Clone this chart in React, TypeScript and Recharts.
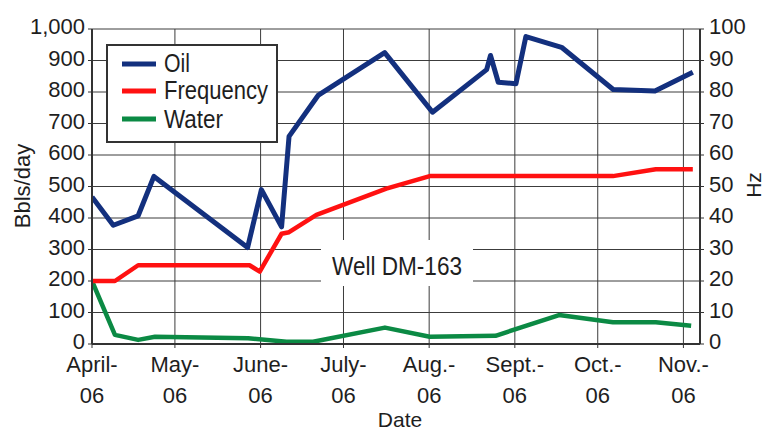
import React from 'react';
import { LineChart, Line, XAxis, YAxis, CartesianGrid } from 'recharts';

// X positions are days since 1 April 2006
const monthTickDays = [0, 30, 61, 91, 122, 153, 183, 214];
const monthLabels = ['April-', 'May-', 'June-', 'July-', 'Aug.-', 'Sept.-', 'Oct.-', 'Nov.-'];
const yearLabel = '06';
const leftTicks = [0, 100, 200, 300, 400, 500, 600, 700, 800, 900, 1000];
const rightTicks = [0, 10, 20, 30, 40, 50, 60, 70, 80, 90, 100];

const oilDays = [0, 7.7, 16.7, 22.4, 56.3, 61.3, 68.6, 71.3, 81.8, 105.9, 123.2, 142.8, 144.2, 147, 153.4, 157, 169.9, 188.6, 203.7, 217.4];
const oilBbls = [467, 377, 407, 532, 306, 490, 372, 659, 789, 925, 736, 871, 916, 831, 826, 976, 942, 808, 803, 863];

const freqDays = [0, 8.3, 16.7, 57, 60.7, 68.6, 71.3, 81.2, 106.5, 122.2, 188.5, 204, 217.4];
const freqHz = [20, 20, 25, 25, 23, 35, 35.5, 41, 49.3, 53.3, 53.3, 55.5, 55.5];

const waterDays = [0, 8.3, 16.7, 22.8, 56.5, 70.4, 80, 106, 122.2, 146, 169, 188.5, 204, 216.8];
const waterBbls = [200, 29, 13, 23, 18, 7, 7, 52, 23, 26, 92, 69, 69, 58];

const oilData = oilDays.map((d, i) => ({ day: d, oil: oilBbls[i] }));
const freqData = freqDays.map((d, i) => ({ day: d, freq: freqHz[i] }));
const waterData = waterDays.map((d, i) => ({ day: d, water: waterBbls[i] }));

const OIL = '#13307e';
const FREQ = '#ff1111';
const WATER = '#0b8a44';
const FONT = '"Liberation Sans", Arial, Helvetica, sans-serif';
const TXT = '#1e1e1e';

const XTick = (props: any) => {
  const { x, y, payload } = props;
  const i = monthTickDays.indexOf(payload.value);
  return (
    <g>
      <text x={x} y={y + 22} textAnchor="middle" fontSize={22} fill={TXT} fontFamily={FONT}>
        {monthLabels[i]}
      </text>
      <text x={x} y={y + 53} textAnchor="middle" fontSize={22} fill={TXT} fontFamily={FONT}>
        {yearLabel}
      </text>
    </g>
  );
};

const LeftTick = (props: any) => {
  const { x, y, payload } = props;
  return (
    <text x={x} y={y + 5} textAnchor="end" fontSize={22} fill={TXT} fontFamily={FONT}>
      {Number(payload.value).toLocaleString('en-US')}
    </text>
  );
};

const RightTick = (props: any) => {
  const { x, y, payload } = props;
  return (
    <text x={x} y={y + 5} textAnchor="start" fontSize={22} fill={TXT} fontFamily={FONT}>
      {payload.value}
    </text>
  );
};

export default function App() {
  return (
    <div style={{ position: 'absolute', left: 0, top: 0, width: 767, height: 432, background: '#fff' }}>
      <LineChart width={767} height={432} margin={{ top: 29, right: 0, left: 0, bottom: 0 }}>
        <CartesianGrid yAxisId="left" stroke="#3c3c3c" strokeWidth={1} />
        <XAxis
          dataKey="day"
          type="number"
          domain={[0, 220]}
          ticks={monthTickDays}
          height={88}
          tickSize={4}
          tickMargin={2}
          tick={<XTick />}
          axisLine={{ stroke: '#333', strokeWidth: 2 }}
          tickLine={{ stroke: '#333' }}
          allowDataOverflow
        />
        <YAxis
          yAxisId="left"
          orientation="left"
          width={92}
          domain={[0, 1000]}
          ticks={leftTicks}
          tickSize={4}
          tickMargin={3}
          tick={<LeftTick />}
          axisLine={{ stroke: '#333', strokeWidth: 2 }}
          tickLine={{ stroke: '#333' }}
        />
        <YAxis
          yAxisId="right"
          orientation="right"
          width={67}
          domain={[0, 100]}
          ticks={rightTicks}
          tickSize={4}
          tickMargin={5}
          tick={<RightTick />}
          axisLine={{ stroke: '#333', strokeWidth: 2 }}
          tickLine={{ stroke: '#333' }}
        />
        <Line yAxisId="left" data={waterData} dataKey="water" type="linear" stroke={WATER} strokeWidth={4.5} dot={false} isAnimationActive={false} strokeLinejoin="round" />
        <Line yAxisId="right" data={freqData} dataKey="freq" type="linear" stroke={FREQ} strokeWidth={4.5} dot={false} isAnimationActive={false} strokeLinejoin="round" />
        <Line yAxisId="left" data={oilData} dataKey="oil" type="linear" stroke={OIL} strokeWidth={5} dot={false} isAnimationActive={false} strokeLinejoin="round" />
      </LineChart>
      <svg width={767} height={432} style={{ position: 'absolute', left: 0, top: 0, pointerEvents: 'none' }}>
        <rect x={107} y={45} width={170} height={97} fill="#fff" stroke="#333" strokeWidth={2} />
        <line x1={122} x2={156} y1={64} y2={64} stroke={OIL} strokeWidth={5} />
        <line x1={122} x2={156} y1={91} y2={91} stroke={FREQ} strokeWidth={5} />
        <line x1={122} x2={156} y1={119} y2={119} stroke={WATER} strokeWidth={5} />
        <text x={164} y={72} fontSize={25} fill={TXT} fontFamily={FONT} textLength={26} lengthAdjust="spacingAndGlyphs">Oil</text>
        <text x={164} y={99} fontSize={25} fill={TXT} fontFamily={FONT} textLength={104} lengthAdjust="spacingAndGlyphs">Frequency</text>
        <text x={164} y={128} fontSize={25} fill={TXT} fontFamily={FONT} textLength={59} lengthAdjust="spacingAndGlyphs">Water</text>
        <rect x={321} y={240} width={152} height={46} fill="#fff" />
        <text x={332} y={275} fontSize={26} fill={TXT} fontFamily={FONT} textLength={130} lengthAdjust="spacingAndGlyphs">Well DM-163</text>
        <text x={30} y={186} fontSize={22} fill={TXT} fontFamily={FONT} textAnchor="middle" transform="rotate(-90 30 186)">Bbls/day</text>
        <text x={761} y={185} fontSize={21} fill={TXT} fontFamily={FONT} textAnchor="middle" transform="rotate(-90 761 185)">Hz</text>
        <text x={400} y={427} fontSize={21} fill={TXT} fontFamily={FONT} textAnchor="middle">Date</text>
      </svg>
    </div>
  );
}
